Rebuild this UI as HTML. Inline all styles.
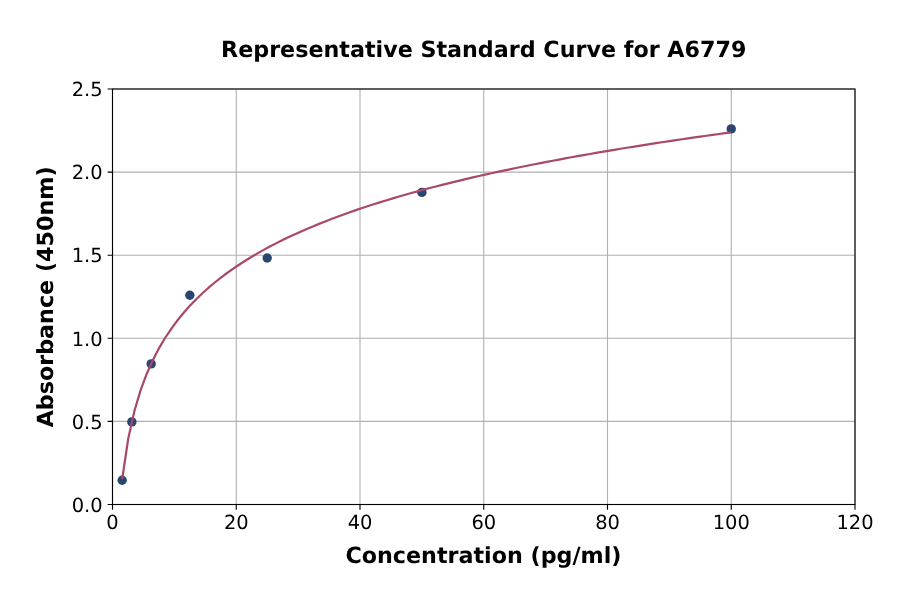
<!DOCTYPE html>
<html lang="en">
<head>
<meta charset="utf-8">
<title>Representative Standard Curve for A6779</title>
<style>
html,body{margin:0;padding:0;background:#fff}
body{width:900px;height:594px;overflow:hidden}
svg{display:block}
text{font-family:"DejaVu Sans","Liberation Sans",sans-serif;fill:#000;text-rendering:geometricPrecision}
.tk{font-size:19.44px}
.lb{font-size:22.22px;font-weight:bold}
</style>
</head>
<body>
<svg width="900" height="594" viewBox="0 0 900 594">
<rect width="900" height="594" fill="#fff"/>
<path d="M112.50 89.00V504.50M236.25 89.00V504.50M360.00 89.00V504.50M483.75 89.00V504.50M607.50 89.00V504.50M731.25 89.00V504.50M855.00 89.00V504.50M112.50 504.50H855.00M112.50 421.40H855.00M112.50 338.30H855.00M112.50 255.20H855.00M112.50 172.10H855.00M112.50 89.00H855.00" fill="none" stroke="#b0b0b0" stroke-width="1.11"/>
<g fill="#28466f"><circle cx="122.17" cy="480.23" r="4.7"/><circle cx="131.84" cy="421.90" r="4.7"/><circle cx="151.17" cy="363.89" r="4.7"/><circle cx="189.84" cy="295.25" r="4.7"/><circle cx="267.19" cy="258.03" r="4.7"/><circle cx="421.88" cy="192.38" r="4.7"/><circle cx="731.25" cy="128.89" r="4.7"/></g>
<path d="M122.17 479.25 L128.32 438.17 L134.47 410.77 L140.62 390.18 L146.78 373.68 L152.93 359.91 L159.08 348.10 L165.23 337.75 L171.39 328.55 L177.54 320.26 L183.69 312.72 L189.84 305.80 L196.00 299.42 L202.15 293.49 L208.30 287.95 L214.45 282.76 L220.61 277.87 L226.76 273.25 L232.91 268.88 L239.06 264.72 L245.21 260.76 L251.37 256.98 L257.52 253.36 L263.67 249.90 L269.82 246.57 L275.98 243.37 L282.13 240.29 L288.28 237.32 L294.43 234.45 L300.59 231.67 L306.74 228.99 L312.89 226.39 L319.04 223.86 L325.20 221.41 L331.35 219.04 L337.50 216.72 L343.65 214.47 L349.80 212.28 L355.96 210.15 L362.11 208.06 L368.26 206.03 L374.41 204.05 L380.57 202.11 L386.72 200.22 L392.87 198.37 L399.02 196.56 L405.18 194.78 L411.33 193.05 L417.48 191.35 L423.63 189.68 L429.79 188.05 L435.94 186.45 L442.09 184.88 L448.24 183.33 L454.39 181.82 L460.55 180.33 L466.70 178.87 L472.85 177.43 L479.00 176.02 L485.16 174.63 L491.31 173.26 L497.46 171.92 L503.61 170.60 L509.77 169.30 L515.92 168.01 L522.07 166.75 L528.22 165.51 L534.38 164.28 L540.53 163.07 L546.68 161.88 L552.83 160.71 L558.98 159.55 L565.14 158.41 L571.29 157.28 L577.44 156.17 L583.59 155.08 L589.75 153.99 L595.90 152.92 L602.05 151.87 L608.20 150.83 L614.36 149.80 L620.51 148.78 L626.66 147.78 L632.81 146.79 L638.96 145.80 L645.12 144.84 L651.27 143.88 L657.42 142.93 L663.57 141.99 L669.73 141.07 L675.88 140.15 L682.03 139.24 L688.18 138.35 L694.34 137.46 L700.49 136.58 L706.64 135.72 L712.79 134.86 L718.95 134.01 L725.10 133.16 L731.25 132.33" fill="none" stroke="#a8486c" stroke-width="2.2" stroke-linejoin="round" stroke-linecap="butt"/>
<path d="M112.50 504.50v5.2M236.25 504.50v5.2M360.00 504.50v5.2M483.75 504.50v5.2M607.50 504.50v5.2M731.25 504.50v5.2M855.00 504.50v5.2M112.50 504.50h-4.86M112.50 421.40h-4.86M112.50 338.30h-4.86M112.50 255.20h-4.86M112.50 172.10h-4.86M112.50 89.00h-4.86" fill="none" stroke="#000" stroke-width="1.11"/>
<rect x="112.5" y="89.0" width="742.5" height="415.5" fill="none" stroke="#000" stroke-width="1.11"/>
<g class="tk" text-anchor="middle"><text x="112.50" y="529.3">0</text><text x="236.25" y="529.3">20</text><text x="360.00" y="529.3">40</text><text x="483.75" y="529.3">60</text><text x="607.50" y="529.3">80</text><text x="731.25" y="529.3">100</text><text x="855.00" y="529.3">120</text></g>
<g class="tk" text-anchor="end"><text x="102.6" y="511.70">0.0</text><text x="102.6" y="428.60">0.5</text><text x="102.6" y="345.50">1.0</text><text x="102.6" y="262.40">1.5</text><text x="102.6" y="179.30">2.0</text><text x="102.6" y="96.20">2.5</text></g>
<text class="lb" text-anchor="middle" x="483.75" y="57">Representative Standard Curve for A6779</text>
<text class="lb" text-anchor="middle" x="483.5" y="563">Concentration (pg/ml)</text>
<text class="lb" text-anchor="middle" transform="translate(52.9 296.9) rotate(-90)">Absorbance (450nm)</text>
</svg>
</body>
</html>
